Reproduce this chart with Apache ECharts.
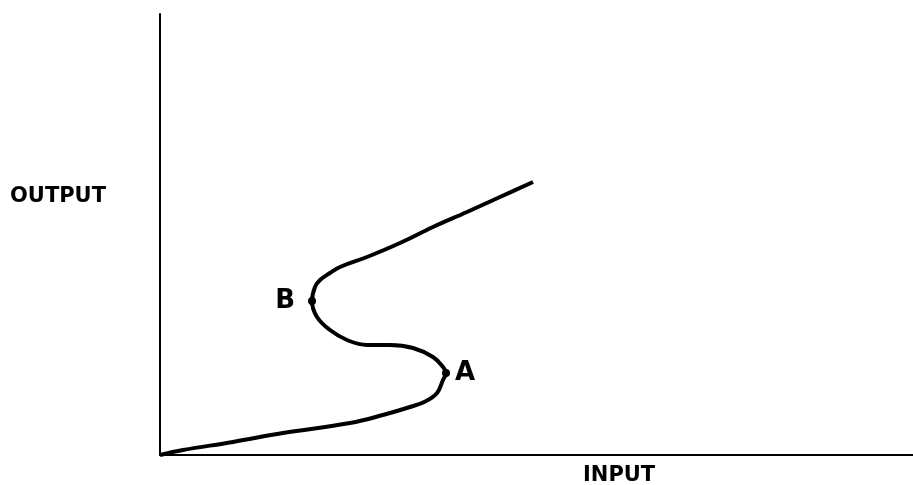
<!DOCTYPE html>
<html lang="en">
  <head>
    <meta charset="UTF-8" />
    <title>S-curve</title>
    <script src="https://cdn.jsdelivr.net/npm/echarts@6.0.0/dist/echarts.min.js"></script>
    <style>
      body { margin: 0; background: #fff; }
    </style>
  </head>
  <body>
    <div id="main" style="width: 913px; height: 485px"></div>
  </body>
  <script>
    // curve (input, output), arbitrary units 0..100
    const curveX = [0, 3.05, 9.69, 16.33, 25.23, 29.61, 33.2, 35.3, 36.79, 37.58, 37.98, 37.58, 36.25, 33.6, 30.54, 27.49, 24.83, 22.58, 20.85, 20.19, 20.58, 21.25, 22.58, 23.9, 27.49, 31.87, 36.25, 40.77, 45.15, 49.54];
    const curveY = [0, 1.13, 2.95, 4.99, 7.26, 9.07, 10.88, 12.2, 14.06, 17.01, 18.59, 19.95, 22.22, 24.26, 24.94, 24.94, 26.08, 28.34, 31.29, 34.92, 38.1, 39.68, 41.27, 42.63, 44.9, 48.07, 51.7, 55.1, 58.5, 61.9];

    // turning points
    const pointNames = ["A", "B"];
    const pointX = [37.98, 20.19];
    const pointY = [18.59, 34.92];

    const xName = "INPUT";
    const yName = "OUTPUT";

    var myChart = echarts.init(document.getElementById("main"));

    var option = {
      animation: false,
      backgroundColor: "#fff",
      grid: { left: 160, right: 0, top: 14, bottom: 30 },
      xAxis: {
        type: "value",
        min: 0,
        max: 100,
        axisLine: { lineStyle: { color: "#000", width: 2 } },
        axisTick: { show: false },
        axisLabel: { show: false },
        splitLine: { show: false },
      },
      yAxis: {
        type: "value",
        min: 0,
        max: 100,
        axisLine: { show: true, lineStyle: { color: "#000", width: 2 } },
        axisTick: { show: false },
        axisLabel: { show: false },
        splitLine: { show: false },
      },
      graphic: [
        {
          type: "text",
          left: 10,
          top: 186,
          style: { text: yName, font: "bold 21px 'DejaVu Sans'", fill: "#000" },
        },
        {
          type: "text",
          left: 583,
          top: 465,
          style: { text: xName, font: "bold 21px 'DejaVu Sans'", fill: "#000" },
        },
      ],
      series: [
        {
          type: "line",
          data: curveX.map((x, i) => [x, curveY[i]]),
          smooth: 0.4,
          showSymbol: false,
          lineStyle: { color: "#000", width: 4 },
        },
        {
          type: "scatter",
          data: pointX.map((x, i) => ({
            value: [x, pointY[i]],
            label: {
              show: true,
              formatter: pointNames[i],
              position: i === 0 ? "right" : "left",
              distance: i === 0 ? 5 : 13,
              color: "#000",
              fontSize: 26,
              fontWeight: "bold",
              fontFamily: "DejaVu Sans",
            },
          })),
          symbolSize: 8,
          itemStyle: { color: "#000", opacity: 1 },
        },
      ],
    };

    myChart.setOption(option);
  </script>
</html>
